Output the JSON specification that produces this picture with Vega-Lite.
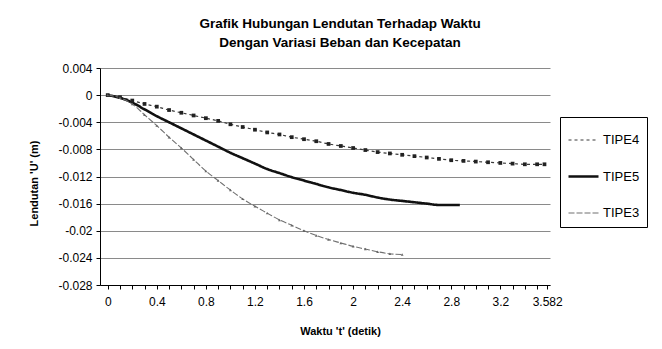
{
  "$schema": "https://vega.github.io/schema/vega-lite/v6.json",
  "width": 450,
  "height": 217,
  "autosize": {"type": "none"},
  "padding": {"left": 100, "top": 68, "right": 112, "bottom": 64},
  "background": "white",
  "config": {
    "font": "Liberation Sans",
    "view": {"stroke": null},
    "axis": {"labelFont": "Liberation Sans", "titleFont": "Liberation Sans", "labelColor": "black", "titleColor": "black", "domainColor": "black", "tickColor": "black"}
  },
  "title": {
    "text": ["Grafik Hubungan Lendutan Terhadap Waktu", "Dengan Variasi Beban dan Kecepatan"],
    "fontSize": 13.5,
    "fontWeight": "bold",
    "lineHeight": 19,
    "offset": 13,
    "dx": 15,
    "color": "black",
    "anchor": "middle"
  },
  "data": {
    "values": [
      {"t": 0, "U": 0, "tipe": "TIPE4"},
      {"t": 0.1, "U": -0.0003, "tipe": "TIPE4"},
      {"t": 0.2, "U": -0.0008, "tipe": "TIPE4"},
      {"t": 0.3, "U": -0.0013, "tipe": "TIPE4"},
      {"t": 0.4, "U": -0.0017, "tipe": "TIPE4"},
      {"t": 0.5, "U": -0.0022, "tipe": "TIPE4"},
      {"t": 0.6, "U": -0.0026, "tipe": "TIPE4"},
      {"t": 0.7, "U": -0.003, "tipe": "TIPE4"},
      {"t": 0.8, "U": -0.0034, "tipe": "TIPE4"},
      {"t": 0.9, "U": -0.0038, "tipe": "TIPE4"},
      {"t": 1.0, "U": -0.0043, "tipe": "TIPE4"},
      {"t": 1.1, "U": -0.0047, "tipe": "TIPE4"},
      {"t": 1.2, "U": -0.0051, "tipe": "TIPE4"},
      {"t": 1.3, "U": -0.0055, "tipe": "TIPE4"},
      {"t": 1.4, "U": -0.0058, "tipe": "TIPE4"},
      {"t": 1.5, "U": -0.0062, "tipe": "TIPE4"},
      {"t": 1.6, "U": -0.0065, "tipe": "TIPE4"},
      {"t": 1.7, "U": -0.0068, "tipe": "TIPE4"},
      {"t": 1.8, "U": -0.0072, "tipe": "TIPE4"},
      {"t": 1.9, "U": -0.0075, "tipe": "TIPE4"},
      {"t": 2.0, "U": -0.0078, "tipe": "TIPE4"},
      {"t": 2.1, "U": -0.0081, "tipe": "TIPE4"},
      {"t": 2.2, "U": -0.0084, "tipe": "TIPE4"},
      {"t": 2.3, "U": -0.0086, "tipe": "TIPE4"},
      {"t": 2.4, "U": -0.0088, "tipe": "TIPE4"},
      {"t": 2.5, "U": -0.009, "tipe": "TIPE4"},
      {"t": 2.6, "U": -0.0092, "tipe": "TIPE4"},
      {"t": 2.7, "U": -0.0094, "tipe": "TIPE4"},
      {"t": 2.8, "U": -0.0096, "tipe": "TIPE4"},
      {"t": 2.9, "U": -0.0097, "tipe": "TIPE4"},
      {"t": 3.0, "U": -0.0098, "tipe": "TIPE4"},
      {"t": 3.1, "U": -0.0099, "tipe": "TIPE4"},
      {"t": 3.2, "U": -0.01, "tipe": "TIPE4"},
      {"t": 3.3, "U": -0.0101, "tipe": "TIPE4"},
      {"t": 3.4, "U": -0.0102, "tipe": "TIPE4"},
      {"t": 3.5, "U": -0.0102, "tipe": "TIPE4"},
      {"t": 3.56, "U": -0.0102, "tipe": "TIPE4"},
      {"t": 0, "U": 0, "tipe": "TIPE5"},
      {"t": 0.1, "U": -0.0004, "tipe": "TIPE5"},
      {"t": 0.2, "U": -0.0011, "tipe": "TIPE5"},
      {"t": 0.3, "U": -0.0021, "tipe": "TIPE5"},
      {"t": 0.4, "U": -0.0031, "tipe": "TIPE5"},
      {"t": 0.5, "U": -0.004, "tipe": "TIPE5"},
      {"t": 0.6, "U": -0.0049, "tipe": "TIPE5"},
      {"t": 0.7, "U": -0.0058, "tipe": "TIPE5"},
      {"t": 0.8, "U": -0.0067, "tipe": "TIPE5"},
      {"t": 0.9, "U": -0.0076, "tipe": "TIPE5"},
      {"t": 1.0, "U": -0.0085, "tipe": "TIPE5"},
      {"t": 1.1, "U": -0.0093, "tipe": "TIPE5"},
      {"t": 1.2, "U": -0.0101, "tipe": "TIPE5"},
      {"t": 1.3, "U": -0.0109, "tipe": "TIPE5"},
      {"t": 1.4, "U": -0.0115, "tipe": "TIPE5"},
      {"t": 1.5, "U": -0.0121, "tipe": "TIPE5"},
      {"t": 1.6, "U": -0.0126, "tipe": "TIPE5"},
      {"t": 1.7, "U": -0.0131, "tipe": "TIPE5"},
      {"t": 1.8, "U": -0.0136, "tipe": "TIPE5"},
      {"t": 1.9, "U": -0.014, "tipe": "TIPE5"},
      {"t": 2.0, "U": -0.0144, "tipe": "TIPE5"},
      {"t": 2.1, "U": -0.0147, "tipe": "TIPE5"},
      {"t": 2.2, "U": -0.0151, "tipe": "TIPE5"},
      {"t": 2.3, "U": -0.0154, "tipe": "TIPE5"},
      {"t": 2.4, "U": -0.0156, "tipe": "TIPE5"},
      {"t": 2.5, "U": -0.0158, "tipe": "TIPE5"},
      {"t": 2.6, "U": -0.016, "tipe": "TIPE5"},
      {"t": 2.7, "U": -0.0162, "tipe": "TIPE5"},
      {"t": 2.8, "U": -0.0162, "tipe": "TIPE5"},
      {"t": 2.87, "U": -0.0162, "tipe": "TIPE5"},
      {"t": 0, "U": 0, "tipe": "TIPE3"},
      {"t": 0.1, "U": -0.0004, "tipe": "TIPE3"},
      {"t": 0.2, "U": -0.0013, "tipe": "TIPE3"},
      {"t": 0.3, "U": -0.0029, "tipe": "TIPE3"},
      {"t": 0.4, "U": -0.0045, "tipe": "TIPE3"},
      {"t": 0.5, "U": -0.0062, "tipe": "TIPE3"},
      {"t": 0.6, "U": -0.0078, "tipe": "TIPE3"},
      {"t": 0.7, "U": -0.0095, "tipe": "TIPE3"},
      {"t": 0.8, "U": -0.0112, "tipe": "TIPE3"},
      {"t": 0.9, "U": -0.0126, "tipe": "TIPE3"},
      {"t": 1.0, "U": -0.014, "tipe": "TIPE3"},
      {"t": 1.1, "U": -0.0153, "tipe": "TIPE3"},
      {"t": 1.2, "U": -0.0164, "tipe": "TIPE3"},
      {"t": 1.3, "U": -0.0174, "tipe": "TIPE3"},
      {"t": 1.4, "U": -0.0184, "tipe": "TIPE3"},
      {"t": 1.5, "U": -0.0192, "tipe": "TIPE3"},
      {"t": 1.6, "U": -0.02, "tipe": "TIPE3"},
      {"t": 1.7, "U": -0.0207, "tipe": "TIPE3"},
      {"t": 1.8, "U": -0.0213, "tipe": "TIPE3"},
      {"t": 1.9, "U": -0.0218, "tipe": "TIPE3"},
      {"t": 2.0, "U": -0.0223, "tipe": "TIPE3"},
      {"t": 2.1, "U": -0.0227, "tipe": "TIPE3"},
      {"t": 2.2, "U": -0.0231, "tipe": "TIPE3"},
      {"t": 2.3, "U": -0.0234, "tipe": "TIPE3"},
      {"t": 2.4, "U": -0.0235, "tipe": "TIPE3"}
    ]
  },
  "encoding": {
    "x": {
      "field": "t",
      "type": "quantitative",
      "scale": {"domain": [-0.063, 3.605], "nice": false, "zero": false},
      "axis": {
        "title": "Waktu 't' (detik)",
        "titleFontSize": 11,
        "titleFontWeight": "bold",
        "titleX": 240,
        "titleY": 46,
        "titleBaseline": "middle",
        "titleAlign": "center",
        "values": [0, 0.1, 0.2, 0.3, 0.4, 0.5, 0.6, 0.7, 0.8, 0.9, 1.0, 1.1, 1.2, 1.3, 1.4, 1.5, 1.6, 1.7, 1.8, 1.9, 2.0, 2.1, 2.2, 2.3, 2.4, 2.5, 2.6, 2.7, 2.8, 2.9, 3.0, 3.1, 3.2, 3.3, 3.4, 3.5, 3.582],
        "labelExpr": "abs(datum.value - 3.582) < 0.001 ? '3.582' : (round(datum.value * 10) % 4 == 0 ? format(datum.value, '.4~f') : '')",
        "labelOverlap": false,
        "labelFontSize": 12,
        "labelPadding": 7,
        "tickSize": 4,
        "grid": false
      }
    },
    "y": {
      "field": "U",
      "type": "quantitative",
      "scale": {"domain": [-0.028, 0.004], "nice": false, "zero": false},
      "axis": {
        "title": "Lendutan 'U' (m)",
        "titleFontSize": 11,
        "titleFontWeight": "bold",
        "titleX": -66,
        "titleY": 115,
        "titleAngle": -90,
        "titleAlign": "center",
        "titleBaseline": "middle",
        "values": [0.004, 0, -0.004, -0.008, -0.012, -0.016, -0.02, -0.024, -0.028],
        "labelExpr": "replace(format(datum.value, '.3~f'), '\u2212', '-')",
        "labelFontSize": 12,
        "labelPadding": 4,
        "tickSize": 4,
        "grid": true,
        "gridColor": "#8a8a8a",
        "gridWidth": 1
      }
    }
  },
  "layer": [
    {
      "mark": {"type": "line", "interpolate": "monotone"},
      "encoding": {
        "color": {
          "field": "tipe",
          "type": "nominal",
          "scale": {"domain": ["TIPE4", "TIPE5", "TIPE3"], "range": ["#3a3a3a", "#111111", "#707070"]},
          "legend": {
            "title": null,
            "orient": "none",
            "legendX": 460,
            "legendY": 49,
            "padding": 7,
            "strokeColor": "black",
            "fillColor": "white",
            "symbolType": "stroke",
            "symbolSize": 900,
            "rowPadding": 13,
            "labelFontSize": 13,
            "labelColor": "black",
            "labelOffset": 3
          }
        },
        "strokeDash": {
          "field": "tipe",
          "type": "nominal",
          "scale": {"domain": ["TIPE4", "TIPE5", "TIPE3"], "range": [[3, 3], [1, 0], [6, 2]]},
          "legend": {"title": null, "orient": "none", "legendX": 460, "legendY": 49}
        },
        "strokeWidth": {
          "field": "tipe",
          "type": "nominal",
          "scale": {"type": "ordinal", "domain": ["TIPE4", "TIPE5", "TIPE3"], "range": [1.2, 2.6, 1.1]},
          "legend": {"title": null, "orient": "none", "legendX": 460, "legendY": 49}
        }
      }
    },
    {
      "transform": [{"filter": "datum.tipe == 'TIPE4'"}],
      "mark": {"type": "point", "shape": "square", "filled": true, "size": 14, "color": "#222222", "opacity": 1}
    },
    {
      "transform": [{"filter": "datum.tipe == 'TIPE3'"}],
      "mark": {"type": "point", "shape": "triangle-up", "filled": true, "size": 8, "color": "#666666", "opacity": 1}
    }
  ]
}
